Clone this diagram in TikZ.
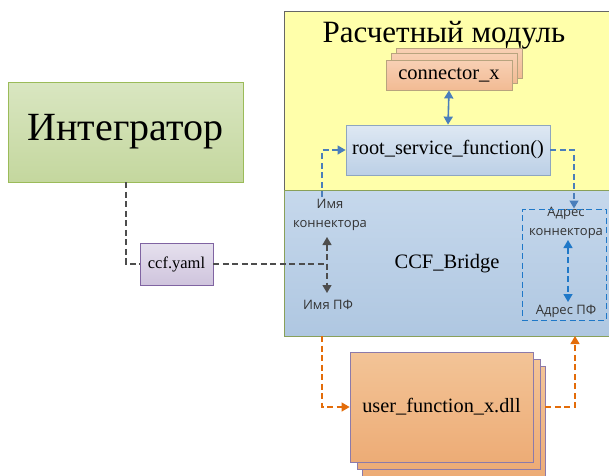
\documentclass[tikz,border=0pt]{standalone}
\usepackage{fontspec}
\setmainfont{Liberation Serif}
\newfontfamily\lblfont{Open Sans}
\usetikzlibrary{arrows.meta}
\definecolor{yelfill}{HTML}{FFFFAA}
\definecolor{bluetop}{HTML}{C6D8EC}
\definecolor{bluebot}{HTML}{AFC7E1}
\definecolor{grntop}{HTML}{D9E6C1}
\definecolor{grnbot}{HTML}{C4D79E}
\definecolor{grnline}{HTML}{9BBB59}
\definecolor{purtop}{HTML}{E6E1EE}
\definecolor{purbot}{HTML}{CFC4DD}
\definecolor{purline}{HTML}{8064A2}
\definecolor{cxtop}{HTML}{F8D0B4}
\definecolor{cxbot}{HTML}{F2BB94}
\definecolor{cxline}{HTML}{B8A47E}
\definecolor{uftop}{HTML}{F3C497}
\definecolor{ufbot}{HTML}{EDAC76}
\definecolor{ufline}{HTML}{8C7AAA}
\definecolor{rstop}{HTML}{DEE8F3}
\definecolor{rsbot}{HTML}{BCD0E6}
\definecolor{rsline}{HTML}{8EA6C0}
\definecolor{darrow}{HTML}{4A7EBB}
\definecolor{brarrow}{HTML}{1F78C8}
\definecolor{orarrow}{HTML}{E36C09}
\definecolor{grarrow}{HTML}{4D4D4D}
\tikzset{
  boxbase/.style={draw, line width=0.8pt, inner sep=0pt},
  intbox/.style={boxbase, draw=grnline, top color=grntop, bottom color=grnbot, minimum width=235pt, minimum height=100pt, font=\fontsize{40}{46}\selectfont},
  yamlbox/.style={boxbase, draw=purline, top color=purtop, bottom color=purbot, minimum width=73pt, minimum height=42pt, font=\fontsize{16.5}{18}\selectfont},
  cxbox/.style={boxbase, draw=cxline, top color=cxtop, bottom color=cxbot, minimum width=126pt, minimum height=30pt, font=\fontsize{20.5}{22}\selectfont},
  rsbox/.style={boxbase, draw=rsline, top color=rstop, bottom color=rsbot, minimum width=204pt, minimum height=50pt, font=\fontsize{20.3}{22}\selectfont},
  ufbox/.style={boxbase, draw=ufline, top color=uftop, bottom color=ufbot, minimum width=183pt, minimum height=110pt, font=\fontsize{20.3}{22}\selectfont},
  lbl/.style={align=center, inner sep=0pt, font=\lblfont\fontsize{13}{19}\selectfont, text=black!80},
  tipA/.style={-{Triangle[length=8pt,width=9pt]}},
  tipAA/.style={{Triangle[length=8pt,width=9pt]}-{Triangle[length=8pt,width=9pt]}},
  dsh/.style={dash pattern=on 6pt off 3.5pt, line width=1.3pt},
}
\begin{document}
\begin{tikzpicture}[x=1pt,y=-1pt]
\useasboundingbox (0,0) rectangle (609,475);
% module regions
\fill[yelfill] (284,11) rectangle (615,190);
\draw[black!60, line width=0.8pt] (615,11) -- (284,11) -- (284,190);
\shade[top color=bluetop, bottom color=bluebot] (284,190) rectangle (615,336);
\draw[grnline!80!black!90, line width=1pt] (615,190) -- (284,190) -- (284,336) -- (615,336);
\node[font=\fontsize{31}{34}\selectfont, anchor=base] (title) at (444,42) {Расчетный модуль};
\node[font=\fontsize{20.5}{22}\selectfont] (bridge) at (447,264) {CCF\_Bridge};

% integrator and yaml
\node[intbox] (int) at (125.5,132) {Интегратор};
\node[yamlbox] (yaml) at (176.5,264) {ccf.yaml};

% connector stack
\node[cxbox] (cx3) at (459,63) {};
\node[cxbox] (cx2) at (454,68) {};
\node[cxbox] (cx) at (449,75) {connector\_x};

% root service function
\node[rsbox] (rs) at (448,150) {root\_service\_function()};

% user function stack
\node[ufbox] (uf3) at (453.5,421) {};
\node[ufbox] (uf2) at (448.5,414) {};
\node[ufbox] (uf) at (441.5,407) {user\_function\_x.dll};

% labels
\node[lbl] (imk) at (330,215) {Имя\\коннектора};
\node[lbl] (impf) at (328,305) {Имя ПФ};
\node[lbl] (adk) at (566,223) {Адрес\\коннектора};
\node[lbl] (adpf) at (566,311) {Адрес ПФ};

% dashed address rectangle
\node[draw=brarrow, dash pattern=on 6pt off 3.5pt, line width=1pt, minimum width=84pt, minimum height=111pt, inner sep=0pt] (adr) at (564,264.5) {};

% coordinates
\coordinate (jn) at (327,264);
\coordinate (ntop) at (327,237);
\coordinate (nbot) at (327,293);
\coordinate (lup) at (322,197);
\coordinate (rsr) at (574,150);
\coordinate (atop) at (568,240);
\coordinate (abot) at (568,302);
\coordinate (obl) at (322,336);
\coordinate (obr) at (575,336);

% connectors
\draw[dsh, grarrow] (int.south -| 126,0) -- (126,264) -- (yaml.west);
\draw[dsh, grarrow] (yaml.east) -- (jn);
\draw[dsh, grarrow, tipAA] (ntop) -- (nbot);
\draw[line width=1.6pt, darrow, tipAA] (cx.south) -- (rs.north);
\draw[dsh, darrow, tipA] (lup) |- (rs.west);
\draw[dsh, darrow, tipA] (rs.east) -| (adr.north -| rsr);
\draw[dsh, brarrow, tipAA] (atop) -- (abot);
\draw[dsh, orarrow, tipA] (obl) |- (uf.west);
\draw[dsh, orarrow, tipA] (uf3.east |- uf.west) -| (obr);
\end{tikzpicture}
\end{document}
